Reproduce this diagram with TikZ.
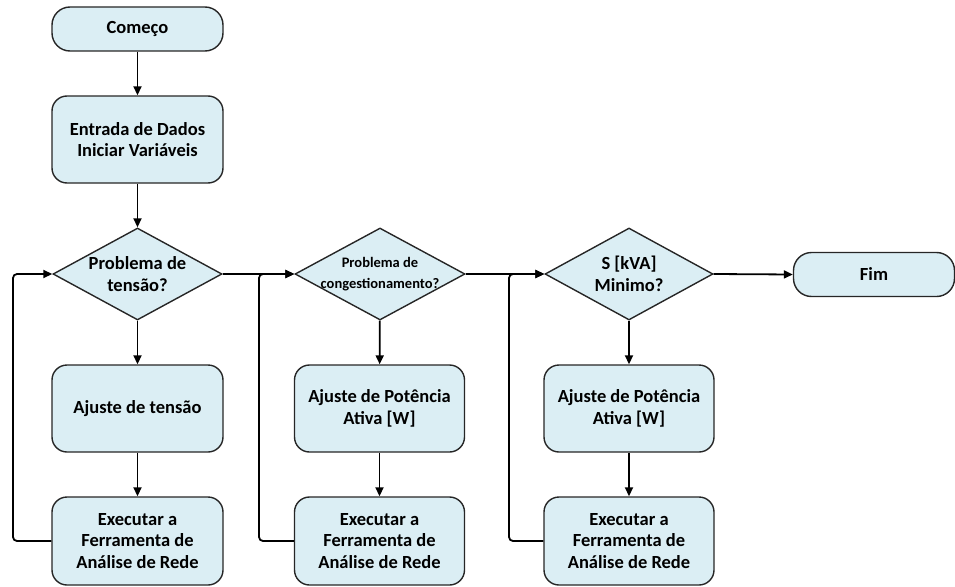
\documentclass[tikz,border=0pt]{standalone}
\usepackage{fontspec}
\setmainfont{Carlito}
\usetikzlibrary{shapes.geometric,arrows.meta}
\definecolor{boxfill}{HTML}{DBEEF4}
\definecolor{boxline}{HTML}{262626}
\tikzset{
  procbox/.style={draw=boxline,line width=1.4pt,fill=boxfill,rounded corners=15pt,
    minimum width=171pt,minimum height=87pt,align=center,inner sep=0pt},
  termbox/.style={draw=boxline,line width=1.4pt,fill=boxfill,rounded corners=18pt,
    minimum height=44pt,align=center,inner sep=0pt},
  decbox/.style={diamond,draw=boxline,line width=1.4pt,fill=boxfill,
    minimum width=169pt,minimum height=92pt,inner sep=0pt},
  dtext/.style={align=center,inner sep=0pt},
  flow/.style={draw=black,line width=1.8pt,-{Triangle[length=9pt,width=8pt]}},
  back/.style={flow,rounded corners=4pt}
}
\begin{document}
\begin{tikzpicture}[x=1pt,y=1pt,
  every node/.style={font=\fontsize{18.5}{21.5}\selectfont\bfseries}]
% canvas: y measured downward from the top edge, written as negative values
\useasboundingbox (0,0) rectangle (955,-586);

% main column
\node[termbox,minimum width=171pt] (start) at (137.5,-29) {Começo};
\node[procbox] (input) at (137.5,-139.5) {Entrada de Dados\\Iniciar Variáveis};
\node[decbox] (d1) at (137.5,-274) {};
\node[dtext] at (d1.center) {Problema de\\tensão?};
\node[procbox] (aj1) at (137.5,-408.5) {Ajuste de tensão};
\node[procbox,minimum height=88pt] (ex1) at (137.5,-541) {Executar a\\Ferramenta de\\Análise de Rede};

% second column
\node[decbox,minimum width=170pt] (d2) at (380,-274) {};
\node[dtext,font=\fontsize{14.5}{21}\selectfont\bfseries] at (d2.center) {Problema de\\congestionamento?};
\node[procbox,minimum width=170pt] (aj2) at (379.5,-408.5) {Ajuste de Potência\\Ativa [W]};
\node[procbox,minimum width=170pt,minimum height=88pt] (ex2) at (379.5,-541) {Executar a\\Ferramenta de\\Análise de Rede};

% third column
\node[decbox,minimum width=168pt] (d3) at (629,-274) {};
\node[dtext] at (d3.center) {S [kVA]\\Minimo?};
\node[procbox,minimum width=170pt] (aj3) at (629,-408.5) {Ajuste de Potência\\Ativa [W]};
\node[procbox,minimum width=170pt,minimum height=88pt] (ex3) at (629,-541) {Executar a\\Ferramenta de\\Análise de Rede};

% end
\node[termbox,minimum width=161pt] (fim) at (874,-274.5) {Fim};

% loop-back corners
\coordinate (c1) at (13,-274);
\coordinate (c2) at (259,-274);
\coordinate (c3) at (509,-274);

% forward flow
\draw[flow] (start) -- (input);
\draw[flow] (input) -- (d1);
\draw[flow] (d1) -- (aj1);
\draw[flow] (aj1) -- (ex1);
\draw[flow] (d1.east) -- (d2.west);
\draw[flow] (d2) -- (aj2);
\draw[flow] (aj2) -- (ex2);
\draw[flow] (d2.east) -- (d3.west);
\draw[flow] (d3) -- (aj3);
\draw[flow] (aj3) -- (ex3);
\draw[flow] (d3.east) -- (fim.west);

% feedback loops
\draw[back] (ex1.west) -| (c1) -- (d1.west);
\draw[back] (ex2.west) -| (c2) -- (d2.west);
\draw[back] (ex3.west) -| (c3) -- (d3.west);
\end{tikzpicture}
\end{document}
